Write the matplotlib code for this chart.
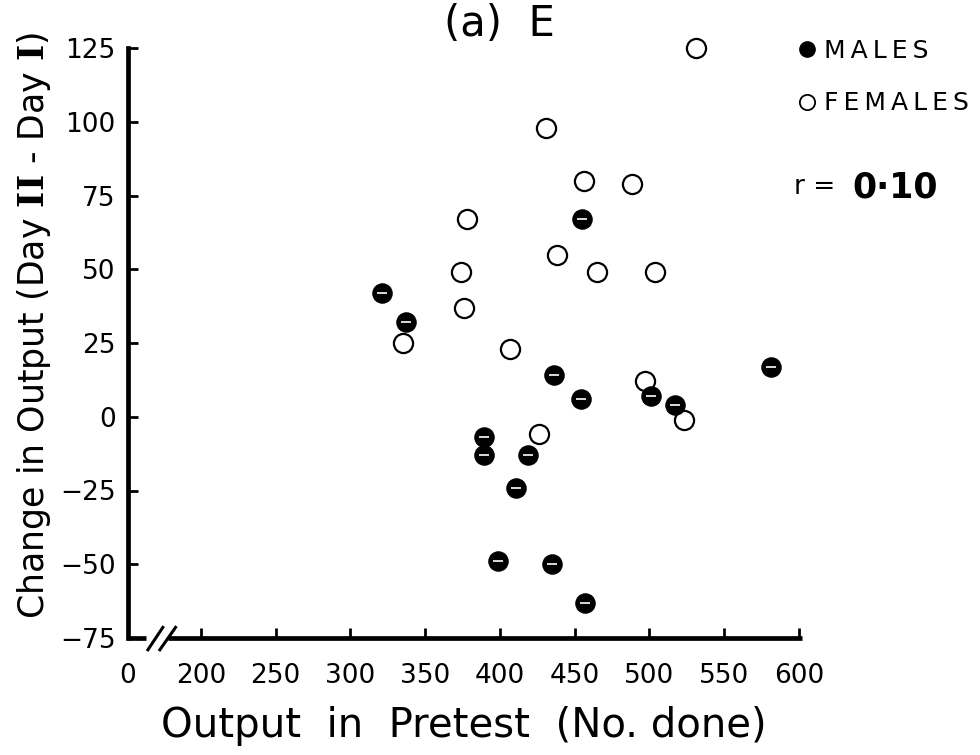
import matplotlib
matplotlib.use("Agg")
import matplotlib.pyplot as plt
from matplotlib.lines import Line2D

plt.rcParams['font.family'] = ['DejaVu Sans']
plt.rcParams['mathtext.fontset'] = 'dejavuserif'

# pretest output vs change in output (Day II - Day I)
males_x = [321, 337, 389, 389, 419, 411, 436, 454, 455, 501, 517, 581, 399, 435, 457]
males_y = [42, 32, -7, -13, -13, -24, 14, 6, 67, 7, 4, 17, -49, -50, -63]
females_x = [531, 431, 456, 488, 378, 438, 374, 465, 504, 376, 335, 407, 497, 523, 426]
females_y = [125, 98, 80, 79, 67, 55, 49, 49, 49, 37, 25, 23, 12, -1, -6]

x_break = 151.2   # where the "0" sits before the axis break
x_ticks = [x_break, 200, 250, 300, 350, 400, 450, 500, 550, 600]
x_labels = ['0', '200', '250', '300', '350', '400', '450', '500', '550', '600']
y_ticks = [125, 100, 75, 50, 25, 0, -25, -50, -75]
y_labels = ['125', '100', '75', '50', '25', '0', '\u221225', '\u221250', '\u221275']

fig = plt.figure(figsize=(9.8, 7.55), dpi=100)
ax = fig.add_axes([128/980, 1-638/755, (799-128)/980, (638-48)/755])

ax.scatter(females_x, females_y, s=190, facecolors='white', edgecolors='black',
           linewidths=1.6, zorder=3, clip_on=False)
ax.scatter(males_x, males_y, s=190, c='black', edgecolors='black', zorder=4, clip_on=False)
ax.scatter(males_x, males_y, s=45, marker='_', c='white', linewidths=1.2, zorder=5,
           clip_on=False)

ax.set_xlim(x_break, 600)
ax.set_ylim(-75, 125)
ax.set_xticks(x_ticks)
ax.set_xticklabels(x_labels)
ax.set_yticks(y_ticks)
ax.set_yticklabels(y_labels)
ax.tick_params(direction='in', length=7, width=2, labelsize=19, color='black')
ax.tick_params(axis='x', pad=18)
ax.tick_params(axis='y', pad=9)

for s in ['top', 'right', 'bottom']:
    ax.spines[s].set_visible(False)
ax.spines['left'].set_linewidth(3.4)

# bottom axis with a break
tr = ax.get_xaxis_transform()
ax.plot([x_break, 163], [0, 0], color='black', lw=3.4, transform=tr, clip_on=False,
        solid_capstyle='butt')
ax.plot([178, 602], [0, 0], color='black', lw=3.4, transform=tr, clip_on=False,
        solid_capstyle='butt')
ax.plot([164.5, 174.5], [-0.02, 0.018], color='black', lw=2.2, transform=tr, clip_on=False)
ax.plot([172.5, 183], [-0.02, 0.018], color='black', lw=2.2, transform=tr, clip_on=False)

ax.set_xlabel('Output  in  Pretest  (No. done)', fontsize=29, labelpad=12)
ax.set_ylabel(r'Change in Output (Day $\mathbf{II}$ - Day $\mathbf{I}$)', fontsize=25)
ax.yaxis.set_label_coords(-0.112, 0.53)

fig.text(0.51, 0.968, '(a)  E', fontsize=30, ha='center', va='center')

ts = '\u2009'
handles = [Line2D([], [], ls='none', marker='o', ms=11, mfc='black', mec='black'),
           Line2D([], [], ls='none', marker='o', ms=11, mfc='white', mec='black', mew=1.3)]
fig.legend(handles, [ts.join('MALES'), ts.join('FEMALES')], loc='upper left',
           bbox_to_anchor=(0.8, 0.962), frameon=False, fontsize=18, handletextpad=0.2,
           labelspacing=1.15, handlelength=1.0, borderaxespad=0)

fig.text(0.81, 0.752, 'r =', fontsize=19, ha='left', va='center')
fig.text(0.870, 0.752, '0\u00b710', fontsize=25, fontweight='bold', ha='left', va='center')

fig.savefig('out.png', dpi=100)
